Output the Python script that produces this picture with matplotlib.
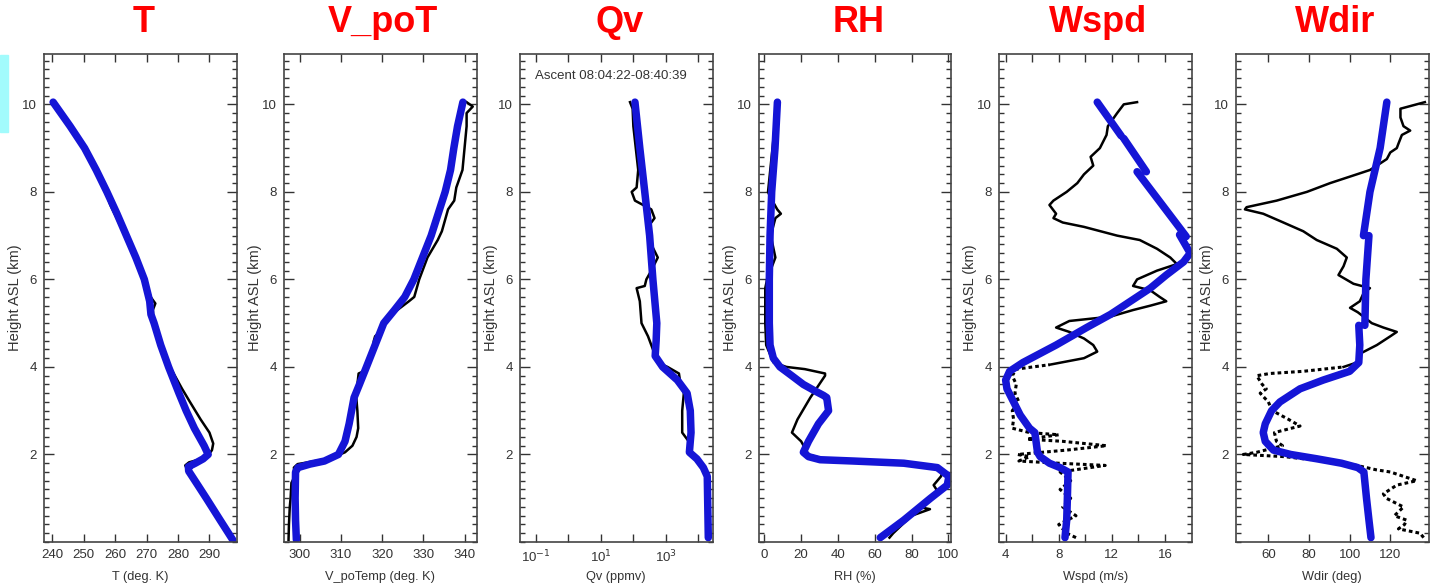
import numpy as np
import matplotlib.pyplot as plt
from matplotlib.patches import Rectangle
from matplotlib.ticker import MultipleLocator, FixedLocator, NullLocator

plt.rcParams['font.family'] = ['Liberation Sans', 'DejaVu Sans']

nan = float('nan')

# temperature (K)
t_obs_z = [0.05, 0.5, 1.0, 1.3, 1.6, 1.75, 1.82, 1.88, 1.95, 2.1, 2.25, 2.5, 2.8, 3.2, 3.5, 3.8,
           4.0, 4.4, 4.7, 5.0, 5.3, 5.45, 5.6, 6.0, 6.5, 7.0, 7.7, 8.0, 9.0, 10.05]
t_obs = [297.4, 293.3, 288.8, 286.2, 283.3, 282.3, 283.5, 286.5, 289.3, 290.8, 291.2, 290.0, 287.2, 283.8,
         281.3, 279.0, 277.5, 275.3, 274.0, 272.2, 272.0, 272.8, 271.3, 269.5, 266.5, 263.2, 258.5, 257.0,
         250.0, 240.2]
t_ret_z = [0.05, 0.5, 1.0, 1.3, 1.62, 1.72, 1.8, 1.9, 2.0, 2.2, 2.6, 3.0, 3.4, 4.0, 4.5, 5.0, 5.2, 5.5,
           6.0, 6.5, 7.0, 7.5, 8.0, 8.5, 9.0, 9.5, 10.05]
t_ret = [297.4, 293.4, 289.0, 286.3, 283.4, 283.3, 285.5, 288.0, 289.6, 288.3, 285.2, 282.6, 280.3,
         277.0, 274.5, 272.4, 271.4, 271.0, 269.3, 266.6, 263.6, 260.6, 257.4, 254.0, 250.3, 245.7, 240.3]

# virtual potential temperature (K)
vpt_obs_z = [0.05, 0.4, 0.8, 1.0, 1.35, 1.5, 1.7, 1.78, 1.82, 1.88, 1.95, 2.05, 2.2, 2.4, 2.6, 3.0, 3.35,
             3.6, 3.85, 3.9, 4.0, 4.3, 4.6, 4.7, 4.8, 5.2, 5.5, 5.6, 6.0, 6.5, 6.9, 7.1, 7.6, 7.8, 8.1,
             8.5, 9.0, 9.5, 9.8, 9.95, 10.05]
vpt_obs = [297.3, 297.4, 297.6, 297.8, 298.0, 298.8, 298.6, 299.5, 302.0, 305.5, 308.5, 311.0, 312.8,
           313.8, 314.2, 314.0, 313.7, 314.0, 314.3, 315.5, 316.3, 317.5, 318.0, 318.3, 319.5, 322.3,
           326.5, 327.8, 329.0, 331.0, 333.5, 334.5, 336.0, 337.5, 338.0, 339.5, 340.0, 340.5, 340.5,
           342.0, 340.5]
vpt_ret_z = [0.05, 0.5, 1.0, 1.6, 1.7, 1.78, 1.85, 2.0, 2.3, 2.7, 3.3, 3.6, 4.0, 4.5, 5.0, 5.3, 5.6, 6.0,
             6.5, 7.0, 7.5, 8.0, 8.5, 9.0, 9.5, 10.05]
vpt_ret = [299.2, 299.0, 298.9, 299.0, 299.6, 302.5, 306.0, 309.4, 311.0, 312.0, 313.2, 314.5, 316.2,
           318.3, 320.4, 323.0, 325.5, 327.7, 329.8, 331.9, 333.6, 335.3, 336.6, 337.4, 338.3, 339.6]

# water vapour mixing ratio (ppmv)
qv_obs_z = [0.1, 1.5, 1.8, 2.0, 2.3, 2.5, 3.0, 3.4, 3.6, 3.85, 4.0, 4.1, 4.3, 4.7, 5.0, 5.5, 5.8, 5.85,
            6.0, 6.2, 6.5, 6.8, 7.2, 7.4, 7.6, 7.8, 8.0, 8.1, 8.5, 9.5, 9.9, 10.05]
qv_obs = [19950, 18600, 12600, 5600, 5000, 3160, 3160, 3550, 2820, 2510, 1120, 562, 447, 282, 178, 158,
          126, 224, 251, 355, 562, 355, 282, 447, 355, 112, 89, 126, 141, 100, 95, 79]
qv_ret_z = [0.1, 1.5, 1.7, 1.9, 2.05, 2.5, 3.0, 3.4, 3.7, 4.0, 4.25, 4.6, 5.0, 6.0, 7.0, 8.0, 9.0, 10.05]
qv_ret = [20000, 18600, 14100, 8900, 5250, 5900, 5600, 4470, 2240, 794, 468, 501, 525, 398, 316, 224,
          158, 112]

# relative humidity (%)
rh_obs_z = [0.1, 0.2, 0.4, 0.6, 0.75, 0.8, 0.9, 1.1, 1.3, 1.5, 1.65, 1.75, 1.8, 1.85, 1.9, 2.0, 2.3, 2.5,
            2.8, 3.3, 3.8, 3.85, 3.95, 4.0, 4.1, 4.5, 5.0, 5.8, 6.0, 6.5, 7.0, 7.4, 7.5, 7.6, 7.9, 8.0,
            10.05]
rh_obs = [68, 70, 75, 80, 90, 84, 87, 95, 92, 96, 97, 93, 75, 50, 32, 24, 20, 15, 18, 25, 33, 33, 22, 12,
          5, 1, 0.5, 0.5, 1.5, 6, 3.5, 6, 9, 7, 3, 2, 7]
rh_ret_z = [0.1, 0.5, 1.0, 1.3, 1.5, 1.7, 1.8, 1.85, 1.88, 1.95, 2.05, 2.3, 2.7, 3.0, 3.3, 3.35, 3.45,
            3.6, 3.8, 4.0, 4.2, 4.5, 5.0, 6.0, 7.0, 8.0, 9.0, 10.05]
rh_ret = [63, 75.8, 90.3, 99.4, 100.3, 94, 75.8, 48.5, 30.3, 24, 21.2, 24, 29.4, 34.9, 33.9, 32.1, 27.6,
          21.2, 14.9, 8.5, 4.9, 3.1, 2.7, 2.7, 3.1, 4.0, 5.8, 7.1]

# wind speed (m/s)
wspd_obs_z = [0.1, 0.2, 0.4, 0.6, 0.8, 1.0, 1.2, 1.4, 1.6, 1.75, 1.8, 1.85, 1.95, 2.0, 2.1, 2.2, 2.3,
              2.35, 2.45, 2.5, 2.6, 2.8, 3.0, 3.2, 3.4, 3.6, 3.8, 3.95, 4.05, 4.2, 4.35, 4.5, 4.65, 4.8,
              4.9, 5.05, 5.15, 5.3, 5.4, 5.5, 5.6, 5.75, 5.85, 6.0, 6.2, 6.35, 6.5, 6.7, 6.9, 7.0, 7.2,
              7.3, 7.4, 7.5, 7.7, 7.8, 8.0, 8.2, 8.4, 8.6, 8.8, 9.0, 9.3, 9.5, 9.8, 10.0, 10.05]
wspd_obs = [9.3, 8.6, 8.0, 9.3, 8.3, 8.9, 8.1, 8.9, 8.1, 11.5, 8.0, 5.0, 5.8, 4.9, 8.6, 11.6, 8.3, 5.6,
            8.0, 5.8, 4.5, 4.6, 4.5, 5.0, 4.7, 4.8, 4.5, 4.8, 7.3, 9.9, 10.9, 10.6, 9.9, 8.8, 7.8, 8.8,
            11.9, 13.6, 14.9, 16.1, 15.6, 14.9, 13.6, 13.9, 15.4, 16.9, 16.4, 15.4, 14.1, 12.4, 9.9, 8.3,
            7.6, 7.8, 7.3, 7.6, 8.6, 9.4, 9.9, 10.6, 10.4, 11.1, 11.6, 11.7, 12.4, 12.9, 13.9]
wspd_ret_z = [0.1, 0.5, 1.0, 1.6, 1.7, 1.8, 1.95, 2.05, 2.5, 2.6, 2.9, 3.2, 3.5, 3.7, 3.9, 4.1, 4.5, 4.9,
              5.2, 5.5, 5.8, 6.1, 6.4, 6.6, 7.02, nan, 6.98, 8.46, nan, 8.46, 9.22, nan, 9.28, 10.05]
wspd_ret = [8.47, 8.6, 8.65, 8.7, 8.1, 7.3, 6.6, 6.4, 6.2, 5.8, 5.1, 4.6, 4.1, 4.0, 4.3, 5.3, 7.8, 10.1,
            11.9, 13.4, 14.9, 16.1, 17.4, 17.9, 17.1, nan, 17.6, 13.9, nan, 14.6, 12.9, nan, 12.7, 10.9]

# wind direction (deg)
wdir_obs_z = [0.1, 0.2, 0.3, 0.4, 0.5, 0.6, 0.8, 1.0, 1.1, 1.3, 1.4, 1.6, 1.65, 1.75, 1.85, 1.95, 2.0,
              2.05, 2.2, 2.3, 2.5, 2.65, 2.8, 3.0, 3.2, 3.4, 3.5, 3.6, 3.8, 3.85, 3.9, 4.0, 4.1, 4.3, 4.5,
              4.7, 4.8, 4.9, 5.0, 5.15, 5.25, 5.35, 5.5, 5.7, 5.8, 5.9, 6.1, 6.3, 6.5, 6.7, 6.9, 7.1, 7.3,
              7.5, 7.6, 7.65, 7.8, 8.0, 8.2, 8.4, 8.5, 8.6, 8.75, 8.9, 9.0, 9.1, 9.3, 9.4, 9.5, 9.7, 9.9,
              10.0, 10.05]
wdir_obs = [136.4, 134.7, 124, 127, 128, 122, 126.5, 118, 116.6, 123.2, 133, 120, 113, 103.5, 87, 68,
            47.7, 54.3, 67, 64, 63, 75.6, 70, 62, 60, 56, 59, 57, 54.3, 60.8, 77.2, 97, 103.5, 105,
            113.4, 120, 123.2, 116.6, 110.9, 106.8, 104, 100.2, 105, 107, 110, 101.9, 94.5, 97, 98.6,
            93.7, 83.8, 77.2, 67.4, 57.5, 48.5, 49.3, 64.1, 79, 90.4, 103.5, 110, 113.4, 118.3, 120,
            123.2, 124, 125.7, 129.8, 126.5, 125, 125, 133, 137]
wdir_ret_z = [0.1, 0.5, 1.0, 1.6, 1.7, 1.8, 1.9, 2.0, 2.1, 2.3, 2.5, 2.7, 3.0, 3.2, 3.5, 3.7, 3.9, 4.1,
              4.5, 4.95, nan, 4.95, 6.0, 7.0, nan, 7.0, 8.0, 8.5, 9.0, 10.05]
wdir_ret = [110.5, 109.5, 108.3, 107, 104, 96, 84, 71, 62.5, 58.5, 57.5, 58.5, 61.6, 65.7, 75.6, 87, 100,
            104.5, 105, 104.5, nan, 107.5, 108.0, 109.5, nan, 106.8, 110, 112.5, 115, 118.3]

titles = ['T', 'V_poT', 'Qv', 'RH', 'Wspd', 'Wdir']
xlabels = ['T (deg. K)', 'V_poTemp (deg. K)', 'Qv (ppmv)', 'RH (%)', 'Wspd (m/s)', 'Wdir (deg)']
xlims = [(237.4, 298.6), (296.2, 342.9), (10 ** -1.48, 10 ** 4.43), (-2.9, 101.7), (3.5, 18.0), (44.1, 138.8)]
xticks = [[240, 250, 260, 270, 280, 290], [300, 310, 320, 330, 340], None,
          [0, 20, 40, 60, 80, 100], [4, 8, 12, 16], [60, 80, 100, 120]]
profiles = [(t_obs_z, t_obs, t_ret_z, t_ret),
            (vpt_obs_z, vpt_obs, vpt_ret_z, vpt_ret),
            (qv_obs_z, qv_obs, qv_ret_z, qv_ret),
            (rh_obs_z, rh_obs, rh_ret_z, rh_ret),
            (wspd_obs_z, wspd_obs, wspd_ret_z, wspd_ret),
            (wdir_obs_z, wdir_obs, wdir_ret_z, wdir_ret)]

W, H = 1441, 586
lefts = [44, 284, 520, 759, 999, 1236]
ax_w, ax_top, ax_bot = 192.5, 54, 542

fig = plt.figure(figsize=(W / 100, H / 100), dpi=100)
fig.patches.append(Rectangle((0, 1 - 132 / H), 8 / W, 77 / H, transform=fig.transFigure,
                             color='#a2fbfc', zorder=0))

txt = '#333333'
blue = '#1515d6'
for i, (zo, xo, zr, xr) in enumerate(profiles):
    ax = fig.add_axes([lefts[i] / W, 1 - ax_bot / H, ax_w / W, (ax_bot - ax_top) / H])
    if i == 2:
        ax.set_xscale('log')
    if i in (4, 5):
        # low levels are sparse soundings: draw them dotted
        zo_a, xo_a = np.array(zo), np.array(xo)
        lo = zo_a <= 4.05
        ax.plot(xo_a[lo], zo_a[lo], color='k', lw=2.2, ls=(0, (1.2, 1.0)))
        hi = zo_a >= 4.0
        ax.plot(xo_a[hi], zo_a[hi], color='k', lw=1.8)
    else:
        ax.plot(xo, zo, color='k', lw=1.8)
    ax.plot(xr, zr, color=blue, lw=5.4, solid_capstyle='round', solid_joinstyle='round')

    ax.set_xlim(*xlims[i])
    ax.set_ylim(0, 11.15)
    ax.yaxis.set_major_locator(FixedLocator([2, 4, 6, 8, 10]))
    ax.yaxis.set_minor_locator(MultipleLocator(0.2))
    if i == 2:
        ax.xaxis.set_major_locator(FixedLocator([0.1, 1, 10, 100, 1000, 10000]))
        ax.set_xticklabels(['10$^{-1}$', '', '10$^{1}$', '', '10$^{3}$', ''])
        ax.xaxis.set_minor_locator(NullLocator())
        ax.text(0.08, 0.955, 'Ascent 08:04:22-08:40:39', transform=ax.transAxes, fontsize=9.5,
                color=txt, va='center', ha='left')
    elif i == 4:
        ax.xaxis.set_major_locator(FixedLocator([4, 8, 12, 16]))
        ax.xaxis.set_minor_locator(FixedLocator([6, 10, 14]))
    else:
        ax.xaxis.set_major_locator(FixedLocator(xticks[i]))
        ax.xaxis.set_minor_locator(NullLocator())

    ax.tick_params(which='both', direction='in', top=True, right=True, colors=txt,
                   labelsize=9.5, width=1.0)
    ax.tick_params(axis='x', which='major', length=6, pad=5)
    ax.tick_params(axis='x', which='minor', length=6)
    ax.tick_params(axis='y', which='major', length=7, pad=5)
    ax.tick_params(axis='y', which='minor', length=3.5)
    for s in ax.spines.values():
        s.set_color('#444444')
        s.set_linewidth(1.2)

    ax.set_xlabel(xlabels[i], fontsize=9.2, color=txt)
    ax.xaxis.set_label_coords(0.5, -0.06)
    ax.set_ylabel('Height ASL (km)', fontsize=10.5, color=txt)
    ax.yaxis.set_label_coords(-0.115, 0.5)

    cx = (lefts[i] + ax_w / 2 + 3) / W
    fig.text(cx, 1 - 22 / H, titles[i], color='#ff0000', fontsize=26, fontweight='bold',
             ha='center', va='center')

fig.savefig('out.png', dpi=100)
